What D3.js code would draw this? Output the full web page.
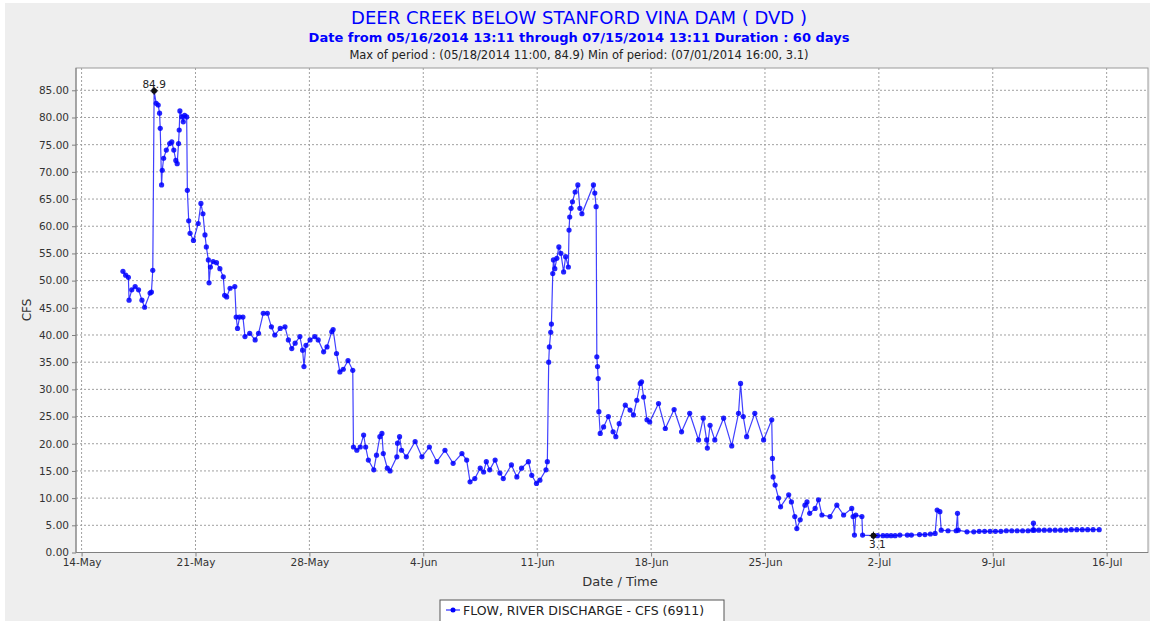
<!DOCTYPE html>
<html>
<head>
<meta charset="utf-8">
<script src="https://cdn.jsdelivr.net/npm/d3@7"></script>
<style>
  body { margin: 0; background: #fff; }
  text { font-family: 'DejaVu Sans', sans-serif; }
</style>
</head>
<body>
<script>
// readings taken off the plotted trace (2014, local time)
const times = [
  '05-16 13:00', '05-16 17:00', '05-16 21:00', '05-16 22:00', '05-17 02:00', '05-17 07:00', '05-17 12:00',
  '05-17 17:00', '05-17 21:00', '05-18 05:00', '05-18 07:00', '05-18 09:00', '05-18 11:00', '05-18 14:00',
  '05-18 17:00', '05-18 19:00', '05-18 20:00', '05-18 22:00', '05-18 23:00', '05-19 01:00', '05-19 05:00',
  '05-19 10:00', '05-19 13:00', '05-19 16:00', '05-19 19:00', '05-19 21:00', '05-19 23:00', '05-20 00:00',
  '05-20 01:00', '05-20 04:00', '05-20 06:00', '05-20 08:00', '05-20 11:00', '05-20 12:00', '05-20 14:00',
  '05-20 16:00', '05-20 21:00', '05-21 04:00', '05-21 08:00', '05-21 11:00', '05-21 14:00', '05-21 16:00',
  '05-21 19:00', '05-21 20:00', '05-21 22:00', '05-22 02:00', '05-22 07:00', '05-22 12:00', '05-22 17:00',
  '05-22 19:00', '05-22 22:00', '05-23 03:00', '05-23 10:00', '05-23 12:00', '05-23 14:00', '05-23 17:00',
  '05-23 22:00', '05-24 01:00', '05-24 08:00', '05-24 16:00', '05-24 21:00', '05-25 04:00', '05-25 10:00',
  '05-25 16:00', '05-25 21:00', '05-26 05:00', '05-26 12:00', '05-26 17:00', '05-26 22:00', '05-27 03:00',
  '05-27 10:00', '05-27 14:00', '05-27 16:00', '05-27 19:00', '05-28 01:00', '05-28 08:00', '05-28 13:00',
  '05-28 21:00', '05-29 02:00', '05-29 09:00', '05-29 11:00', '05-29 16:00', '05-29 21:00', '05-30 02:00',
  '05-30 09:00', '05-30 16:00', '05-30 17:00', '05-30 22:00', '05-31 03:00', '05-31 08:00', '05-31 11:00',
  '05-31 15:00', '05-31 23:00', '06-01 03:00', '06-01 08:00', '06-01 11:00', '06-01 13:00', '06-01 19:00',
  '06-01 23:00', '06-02 09:00', '06-02 10:00', '06-02 13:00', '06-02 16:00', '06-02 23:00', '06-03 12:00',
  '06-03 22:00', '06-04 09:00', '06-04 20:00', '06-05 08:00', '06-05 20:00', '06-06 09:00', '06-06 16:00',
  '06-06 21:00', '06-07 04:00', '06-07 12:00', '06-07 17:00', '06-07 21:00', '06-08 02:00', '06-08 10:00',
  '06-08 17:00', '06-08 22:00', '06-09 10:00', '06-09 18:00', '06-10 01:00', '06-10 11:00', '06-10 16:00',
  '06-10 23:00', '06-11 04:00', '06-11 13:00', '06-11 15:00', '06-11 17:00', '06-11 18:00', '06-11 20:00',
  '06-11 21:00', '06-11 23:00', '06-12 00:00', '06-12 02:00', '06-12 05:00', '06-12 08:00', '06-12 11:00',
  '06-12 15:00', '06-12 18:00', '06-12 22:00', '06-12 23:00', '06-13 00:00', '06-13 02:00', '06-13 04:00',
  '06-13 08:00', '06-13 12:00', '06-13 15:00', '06-13 18:00', '06-14 11:00', '06-14 13:00', '06-14 15:00',
  '06-14 16:00', '06-14 17:00', '06-14 18:00', '06-14 19:00', '06-14 21:00', '06-15 02:00', '06-15 09:00',
  '06-15 16:00', '06-15 20:00', '06-16 01:00', '06-16 10:00', '06-16 17:00', '06-16 22:00', '06-17 03:00',
  '06-17 08:00', '06-17 10:00', '06-17 13:00', '06-17 18:00', '06-17 22:00', '06-18 11:00', '06-18 21:00',
  '06-19 10:00', '06-19 21:00', '06-20 09:00', '06-20 22:00', '06-21 05:00', '06-21 10:00', '06-21 11:00',
  '06-21 15:00', '06-21 22:00', '06-22 11:00', '06-22 23:00', '06-23 09:00', '06-23 12:00', '06-23 16:00',
  '06-23 21:00', '06-24 09:00', '06-24 22:00', '06-25 10:00', '06-25 11:00', '06-25 12:00', '06-25 15:00',
  '06-25 20:00', '06-25 23:00', '06-26 11:00', '06-26 15:00', '06-26 20:00', '06-26 23:00', '06-27 04:00',
  '06-27 11:00', '06-27 14:00', '06-27 18:00', '06-28 02:00', '06-28 07:00', '06-28 12:00', '06-29 00:00',
  '06-29 10:00', '06-29 20:00', '06-30 08:00', '06-30 10:00', '06-30 12:00', '06-30 14:00', '06-30 23:00',
  '07-01 00:00', '07-01 16:00', '07-01 22:00', '07-02 06:00', '07-02 12:00', '07-02 18:00', '07-03 00:00',
  '07-03 07:00', '07-03 18:00', '07-04 00:00', '07-04 12:00', '07-04 20:00', '07-05 04:00', '07-05 11:00',
  '07-05 14:00', '07-05 18:00', '07-05 20:00', '07-06 06:00', '07-06 18:00', '07-06 20:00', '07-06 21:00',
  '07-07 10:00', '07-07 20:00', '07-08 04:00', '07-08 12:00', '07-08 20:00', '07-09 04:00', '07-09 12:00',
  '07-09 20:00', '07-10 04:00', '07-10 12:00', '07-10 20:00', '07-11 04:00', '07-11 11:00', '07-11 12:00',
  '07-11 13:00', '07-11 20:00', '07-12 04:00', '07-12 12:00', '07-12 20:00', '07-13 04:00', '07-13 12:00',
  '07-13 20:00', '07-14 04:00', '07-14 12:00', '07-14 20:00', '07-15 04:00', '07-15 13:00'
];

const flow = [
  51.7, 51.0, 50.6, 46.4, 48.3, 48.9, 48.3,
  46.4, 45.1, 47.7, 47.9, 51.9, 84.9, 82.6,
  82.3, 80.8, 78.0, 67.6, 70.3, 72.5, 74.0,
  75.2, 75.5, 74.0, 72.1, 71.5, 75.2, 77.7,
  81.2, 80.1, 79.2, 80.4, 80.1, 66.6, 61.0,
  58.7, 57.4, 60.5, 64.2, 62.3, 58.4, 56.2,
  53.8, 49.6, 52.5, 53.5, 53.3, 52.2, 50.7,
  47.3, 47.0, 48.6, 48.9, 43.3, 41.2, 43.3,
  43.3, 39.7, 40.3, 39.1, 40.3, 44.0, 44.0,
  41.5, 40.0, 41.2, 41.5, 39.1, 37.5, 38.5,
  39.7, 37.2, 34.2, 38.1, 39.1, 39.7, 39.1,
  36.9, 37.8, 40.6, 41.0, 36.6, 33.2, 33.7,
  35.3, 33.5, 19.4, 18.8, 19.4, 21.6, 19.4,
  17.0, 15.2, 17.9, 21.3, 21.9, 18.2, 15.5,
  15.0, 17.6, 20.1, 21.3, 18.8, 17.6, 20.4,
  17.6, 19.4, 16.7, 18.8, 16.4, 18.2, 17.0,
  13.0, 13.6, 15.5, 14.8, 16.7, 15.2, 17.0,
  14.6, 13.6, 16.1, 13.9, 15.5, 16.7, 14.2,
  12.7, 13.3, 15.2, 16.7, 35.0, 37.8, 40.5,
  42.0, 51.3, 53.8, 52.2, 54.1, 56.2, 55.0,
  51.6, 54.4, 52.5, 59.3, 61.7, 63.3, 64.5,
  66.3, 67.6, 63.3, 62.3, 67.6, 66.1, 63.6,
  36.0, 34.2, 32.0, 25.9, 21.9, 23.1, 25.0,
  22.2, 21.3, 23.7, 27.1, 26.2, 25.3, 28.0,
  31.1, 31.4, 28.6, 24.4, 24.0, 27.4, 22.8,
  26.3, 22.2, 25.6, 20.7, 24.7, 20.7, 19.2,
  23.4, 20.7, 24.7, 19.6, 25.6, 31.1, 25.0,
  21.3, 25.6, 20.7, 24.4, 17.3, 13.9, 12.4,
  10.0, 8.4, 10.6, 9.3, 6.6, 4.4, 6.0,
  8.7, 9.3, 7.2, 8.1, 9.7, 6.9, 6.6,
  8.7, 6.9, 8.1, 6.6, 3.2, 6.9, 6.6,
  3.2, 3.1, 3.1, 3.1, 3.1, 3.1, 3.1,
  3.2, 3.2, 3.2, 3.3, 3.3, 3.4, 3.5,
  7.8, 7.5, 4.1, 4.0, 4.0, 7.2, 4.1,
  3.8, 3.8, 3.9, 3.9, 3.9, 3.9, 3.9,
  4.0, 4.0, 4.0, 4.0, 4.0, 4.1, 5.4,
  4.1, 4.1, 4.1, 4.1, 4.1, 4.1, 4.1,
  4.2, 4.2, 4.2, 4.2, 4.2, 4.2
];

const weekTicks = ['05-14', '05-21', '05-28', '06-04', '06-11', '06-18', '06-25', '07-02', '07-09', '07-16'];
const yTicks = [0, 5, 10, 15, 20, 25, 30, 35, 40, 45, 50, 55, 60, 65, 70, 75, 80, 85];

const maxPoint = { time: '05-18 11:00', value: 84.9 };
const minPoint = { time: '07-01 16:00', value: 3.1 };

const width = 1150;
const height = 621;
const plot = { left: 76, top: 68, right: 1148, bottom: 552.5 };

const parse = d3.timeParse('%Y-%m-%d %H:%M');
const toDate = t => parse('2014-' + (t.length === 5 ? t + ' 00:00' : t));

const data = times.map((t, i) => ({ date: toDate(t), value: flow[i] }));

const x = d3.scaleTime()
  .domain([toDate('05-13 15:45'), toDate('07-18 13:00')])
  .range([plot.left, plot.right]);

const y = d3.scaleLinear()
  .domain([0, 89.1])
  .range([plot.bottom, plot.top]);

const svg = d3.select('body')
  .append('svg')
  .attr('width', width)
  .attr('height', height);

// grey panel behind everything
svg.append('rect')
  .attr('x', 5).attr('y', 3)
  .attr('width', width - 5).attr('height', height - 3)
  .attr('fill', '#eeeeee');

svg.append('rect')
  .attr('x', plot.left).attr('y', plot.top)
  .attr('width', plot.right - plot.left).attr('height', plot.bottom - plot.top)
  .attr('fill', '#fff')
  .attr('stroke', '#9a9a9a');

// titles
const titles = svg.append('g').attr('text-anchor', 'middle');
titles.append('text')
  .attr('x', 579).attr('y', 24)
  .attr('fill', '#0000ff')
  .style('font-size', '18px')
  .text('DEER CREEK BELOW STANFORD VINA DAM ( DVD )');
titles.append('text')
  .attr('x', 579).attr('y', 42)
  .attr('fill', '#0000ff')
  .style('font-size', '13px')
  .style('font-weight', 'bold')
  .text('Date from 05/16/2014 13:11 through 07/15/2014 13:11 Duration : 60 days');
titles.append('text')
  .attr('x', 579).attr('y', 59)
  .attr('fill', '#222')
  .style('font-size', '11.5px')
  .text('Max of period : (05/18/2014 11:00, 84.9)  Min of period: (07/01/2014 16:00,  3.1)');

// grid
const grid = svg.append('g')
  .attr('stroke', '#a0a0a0')
  .attr('stroke-dasharray', '2,2');
grid.selectAll('.hgrid')
  .data(yTicks)
  .enter().append('line')
    .attr('x1', plot.left).attr('x2', plot.right)
    .attr('y1', d => y(d)).attr('y2', d => y(d));
grid.selectAll('.vgrid')
  .data(weekTicks)
  .enter().append('line')
    .attr('x1', d => x(toDate(d))).attr('x2', d => x(toDate(d)))
    .attr('y1', plot.top).attr('y2', plot.bottom);

// axes
const yAxis = d3.axisLeft(y)
  .tickValues(yTicks)
  .tickFormat(d3.format('.2f'))
  .tickSize(4)
  .tickPadding(3);
const xAxis = d3.axisBottom(x)
  .tickValues(weekTicks.map(toDate))
  .tickFormat(d3.timeFormat('%-d-%b'))
  .tickSize(4)
  .tickPadding(2);

const gy = svg.append('g')
  .attr('transform', `translate(${plot.left},0)`)
  .call(yAxis);
const gx = svg.append('g')
  .attr('transform', `translate(0,${plot.bottom})`)
  .call(xAxis);

[gx, gy].forEach((g) => {
  g.select('.domain').attr('stroke', '#808080');
  g.selectAll('.tick line').attr('stroke', '#808080');
  g.selectAll('.tick text')
    .attr('fill', '#333')
    .style('font-size', '10.5px')
    .style('font-family', 'DejaVu Sans, sans-serif');
});
gx.select('.domain').attr('d', `M${plot.left},0H${plot.right}`);
gy.select('.domain').attr('d', `M0,${plot.top}V${plot.bottom}`);

svg.append('text')
  .attr('x', 620).attr('y', 586)
  .attr('text-anchor', 'middle')
  .attr('fill', '#333')
  .style('font-size', '13px')
  .text('Date / Time');

svg.append('text')
  .attr('transform', 'translate(31,310) rotate(-90)')
  .attr('text-anchor', 'middle')
  .attr('fill', '#333')
  .style('font-size', '12px')
  .text('CFS');

// series
const line = d3.line()
  .x(d => x(d.date))
  .y(d => y(d.value));

const series = svg.append('g');
series.append('path')
  .datum(data)
  .attr('d', line)
  .attr('fill', 'none')
  .attr('stroke', '#0000ff')
  .attr('stroke-opacity', 0.75)
  .attr('stroke-width', 1.2);

series.selectAll('.dot')
  .data(data)
  .enter().append('circle')
    .attr('cx', d => x(d.date))
    .attr('cy', d => y(d.value))
    .attr('r', 2.6)
    .attr('fill', '#0000ff')
    .attr('fill-opacity', 0.85);

// max / min markers
[maxPoint, minPoint].forEach((p, i) => {
  const px = x(toDate(p.time));
  const py = y(p.value);
  svg.append('circle')
    .attr('cx', px).attr('cy', py).attr('r', 2.8)
    .attr('fill', '#111');
  svg.append('path')
    .attr('d', `M${px - 4},${py}H${px + 4}M${px},${py - 4}V${py + 4}`)
    .attr('stroke', '#111');
  svg.append('text')
    .attr('x', i === 0 ? px : px + 4)
    .attr('y', i === 0 ? py - 3 : py + 12)
    .attr('text-anchor', 'middle')
    .attr('fill', '#222')
    .style('font-size', '10.5px')
    .text(p.value);
});

// legend
const legend = svg.append('g').attr('transform', 'translate(440,600)');
legend.append('rect')
  .attr('width', 284).attr('height', 24)
  .attr('fill', '#fff')
  .attr('stroke', '#555');
legend.append('line')
  .attr('x1', 6).attr('x2', 20).attr('y1', 10).attr('y2', 10)
  .attr('stroke', '#0000ff');
legend.append('circle')
  .attr('cx', 13).attr('cy', 10).attr('r', 2.5)
  .attr('fill', '#0000ff');
legend.append('text')
  .attr('x', 23).attr('y', 15)
  .attr('fill', '#222')
  .style('font-size', '12.5px')
  .text('FLOW, RIVER DISCHARGE - CFS (6911)');
</script>
</body>
</html>
